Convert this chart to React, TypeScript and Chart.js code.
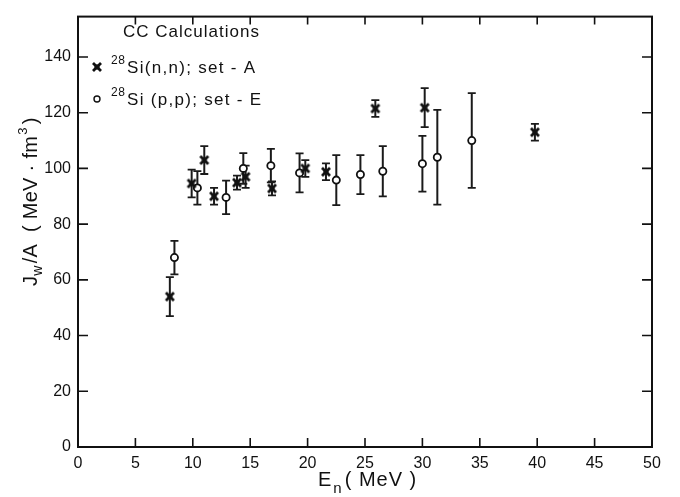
import React, { useEffect, useRef } from "react";
import { Chart, registerables } from "chart.js";
Chart.register(...registerables);

// 28Si(n,n); set-A  (asterisks)
const setA_E = [8.0, 9.9, 11.0, 11.85, 13.85, 14.6, 16.9, 19.8, 21.6, 25.9, 30.2, 39.8];
const setA_J = [54, 94.6, 103, 90, 94.9, 97, 92.8, 100, 98.8, 121.5, 121.8, 113];
const setA_Err = [7, 5, 5, 3, 2.5, 4, 2.5, 3, 3, 3, 7, 3];

// 28Si(p,p); set-E  (open circles)
const setE_E = [8.4, 10.4, 12.9, 14.4, 16.8, 19.3, 22.5, 24.6, 26.55, 30.0, 31.3, 34.3];
const setE_J = [68, 93, 89.6, 100, 101, 98.4, 95.8, 97.8, 99, 101.7, 104, 110];
const setE_Err = [6, 6, 6, 5.5, 6, 7, 9, 7, 9, 10, 17, 17];

const xTicks = [0, 5, 10, 15, 20, 25, 30, 35, 40, 45, 50];
const yTicks = [0, 20, 40, 60, 80, 100, 120, 140];

const FONT = "'Liberation Sans', 'DejaVu Sans', sans-serif";

function makeStar(): HTMLCanvasElement {
  const c = document.createElement("canvas");
  c.width = 12;
  c.height = 12;
  const g = c.getContext("2d")!;
  g.strokeStyle = "#111";
  g.fillStyle = "#111";
  g.lineWidth = 2.8;
  g.beginPath();
  g.moveTo(2, 2);
  g.lineTo(10, 10);
  g.moveTo(10, 2);
  g.lineTo(2, 10);
  g.stroke();
  g.fillRect(3.5, 3.5, 5, 5);
  return c;
}

export default function App() {
  const ref = useRef<HTMLCanvasElement | null>(null);

  useEffect(() => {
    if (!ref.current) return;
    const star = makeStar();

    const errs: Record<number, number[]> = { 0: setA_Err, 1: setE_Err };

    const bgPlugin = {
      id: "bg",
      beforeDraw(chart: any) {
        const ctx = chart.ctx;
        ctx.save();
        ctx.fillStyle = "#fff";
        ctx.fillRect(0, 0, chart.width, chart.height);
        ctx.restore();
      },
    };

    const errPlugin = {
      id: "errbars",
      beforeDatasetsDraw(chart: any) {
        const ctx = chart.ctx;
        const xs = chart.scales.x;
        const ys = chart.scales.y;
        ctx.save();
        ctx.strokeStyle = "#1a1a1a";
        chart.data.datasets.forEach((ds: any, di: number) => {
          const e = errs[di];
          ds.data.forEach((p: any, i: number) => {
            const px = xs.getPixelForValue(p.x);
            const top = ys.getPixelForValue(p.y + e[i]);
            const bot = ys.getPixelForValue(p.y - e[i]);
            ctx.lineWidth = 2;
            ctx.beginPath();
            ctx.moveTo(px, top);
            ctx.lineTo(px, bot);
            ctx.stroke();
            ctx.lineWidth = 1.8;
            ctx.beginPath();
            ctx.moveTo(px - 4, top);
            ctx.lineTo(px + 4, top);
            ctx.moveTo(px - 4, bot);
            ctx.lineTo(px + 4, bot);
            ctx.stroke();
          });
        });
        ctx.restore();
      },
    };

    const framePlugin = {
      id: "frame",
      afterDraw(chart: any) {
        const ctx = chart.ctx;
        const a = chart.chartArea;
        const xs = chart.scales.x;
        const ys = chart.scales.y;
        ctx.save();
        ctx.strokeStyle = "#111";
        ctx.lineWidth = 2;
        ctx.strokeRect(a.left, a.top, a.right - a.left, a.bottom - a.top);
        ctx.lineWidth = 1.6;
        ctx.beginPath();
        xTicks.forEach((v) => {
          const px = xs.getPixelForValue(v);
          ctx.moveTo(px, a.bottom);
          ctx.lineTo(px, a.bottom - 9);
          ctx.moveTo(px, a.top);
          ctx.lineTo(px, a.top + 8);
        });
        yTicks.forEach((v) => {
          const py = ys.getPixelForValue(v);
          ctx.moveTo(a.left, py);
          ctx.lineTo(a.left + 10, py);
          ctx.moveTo(a.right, py);
          ctx.lineTo(a.right - 10, py);
        });
        ctx.stroke();

        // Axis titles
        ctx.fillStyle = "#111";
        ctx.textBaseline = "alphabetic";
        (ctx as any).letterSpacing = "1px";
        // X title: E_n ( MeV )
        {
          let x = 318;
          const y = 486;
          ctx.font = `20px ${FONT}`;
          ctx.textAlign = "left";
          ctx.fillText("E", x, y);
          x += ctx.measureText("E").width + 1;
          ctx.font = `15px ${FONT}`;
          ctx.fillText("n", x, y + 7);
          x += ctx.measureText("n").width + 2;
          ctx.font = `20px ${FONT}`;
          ctx.fillText("( MeV )", x, y);
        }
        // Y title: J_w / A  ( MeV · fm^3 )
        (ctx as any).letterSpacing = "0.3px";
        {
          ctx.translate(37, 286);
          ctx.rotate(-Math.PI / 2);
          let x = 0;
          ctx.font = `20px ${FONT}`;
          ctx.fillText("J", x, 0);
          x += ctx.measureText("J").width;
          ctx.font = `14px ${FONT}`;
          ctx.fillText("w", x, 5);
          x += ctx.measureText("w").width + 2;
          ctx.font = `20px ${FONT}`;
          const s1 = "/A  ( MeV · fm";
          ctx.fillText(s1, x, 0);
          x += ctx.measureText(s1).width + 1;
          ctx.font = `13px ${FONT}`;
          ctx.fillText("3", x, -10);
          x += ctx.measureText("3").width + 3;
          ctx.font = `20px ${FONT}`;
          ctx.fillText(")", x, 0);
          ctx.setTransform(1, 0, 0, 1, 0, 0);
        }

        // Legend
        (ctx as any).letterSpacing = "1px";
        ctx.font = `17px ${FONT}`;
        ctx.textAlign = "left";
        ctx.textBaseline = "middle";
        ctx.fillText("CC Calculations", 123, 32);
        ctx.drawImage(star, 91, 61, 12, 12);
        (ctx as any).letterSpacing = "0.5px";
        ctx.font = `12px ${FONT}`;
        ctx.fillText("28", 111, 61);
        ctx.fillText("28", 111, 93);
        (ctx as any).letterSpacing = "1.3px";
        ctx.font = `17px ${FONT}`;
        ctx.fillText("Si(n,n); set - A", 127, 68);
        ctx.fillText("Si (p,p); set - E", 127, 100);
        (ctx as any).letterSpacing = "0px";
        ctx.beginPath();
        ctx.lineWidth = 1.4;
        ctx.fillStyle = "#fff";
        ctx.arc(97, 99, 3, 0, Math.PI * 2);
        ctx.fill();
        ctx.stroke();
        ctx.restore();
      },
    };

    const chart = new Chart(ref.current, {
      type: "scatter",
      data: {
        datasets: [
          {
            label: "28Si(n,n); set-A",
            data: setA_E.map((x, i) => ({ x, y: setA_J[i] })),
            pointStyle: star as any,
            pointRadius: 6,
            backgroundColor: "#111",
            borderColor: "#111",
          },
          {
            label: "28Si(p,p); set-E",
            data: setE_E.map((x, i) => ({ x, y: setE_J[i] })),
            pointStyle: "circle",
            pointRadius: 3.6,
            pointBorderWidth: 1.8,
            backgroundColor: "#fff",
            borderColor: "#111",
          },
        ],
      },
      options: {
        animation: false,
        responsive: true,
        maintainAspectRatio: false,
        layout: { padding: { left: 0, right: 28, top: 7, bottom: 0 } },
        plugins: { legend: { display: false }, tooltip: { enabled: false } },
        scales: {
          x: {
            type: "linear",
            min: 0,
            max: 50,
            grid: { display: false, drawTicks: false },
            border: { display: false },
            ticks: {
              stepSize: 5,
              padding: 7,
              color: "#111",
              font: { family: FONT, size: 16 },
              maxRotation: 0,
            },
            afterFit(scale: any) {
              scale.height = 50;
            },
          },
          y: {
            type: "linear",
            min: 0,
            max: 154.5,
            grid: { display: false, drawTicks: false },
            border: { display: false },
            ticks: {
              stepSize: 20,
              padding: 7,
              color: "#111",
              font: { family: FONT, size: 16 },
            },
            afterBuildTicks(scale: any) {
              scale.ticks = yTicks.map((v) => ({ value: v }));
            },
            afterFit(scale: any) {
              scale.width = 78;
            },
          },
        },
      },
      plugins: [bgPlugin, errPlugin, framePlugin],
    });

    return () => chart.destroy();
  }, []);

  return (
    <div style={{ position: "fixed", left: 0, top: 0, width: 680, height: 497, background: "#fff" }}>
      <canvas ref={ref} />
    </div>
  );
}
